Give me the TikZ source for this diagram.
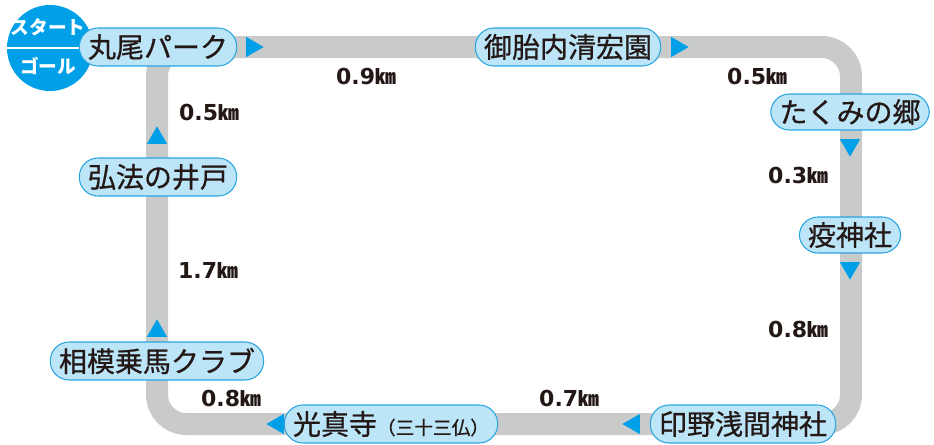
\documentclass[tikz,border=0pt]{standalone}
\usepackage{fontspec}
\setmainfont{Noto Sans CJK JP}
\newfontfamily\jpfont{Noto Sans CJK JP}
\newfontfamily\spotfont{Noto Sans CJK JP}[FakeBold=0.7]
\newfontfamily\numfont{DejaVu Sans}
\usepackage{xcolor}
\usetikzlibrary{shapes.geometric}

\definecolor{routegray}{HTML}{C9CACA}
\definecolor{spotfill}{HTML}{BDE5F8}
\definecolor{spotline}{HTML}{2AA5DF}
\definecolor{mark}{HTML}{00A0E9}
\definecolor{ink}{HTML}{231815}

\newcommand{\kmlabel}[1]{{\numfont\bfseries #1}{\jpfont\bfseries\fontsize{15.5pt}{15.5pt}\selectfont ㎞}}

\begin{document}
\begin{tikzpicture}[
  x=0.75pt, y=-0.75pt,
  route/.style={draw=routegray, line width=16.5pt, rounded corners=22pt},
  spot/.style={rectangle, draw=spotline, line width=0.8pt, fill=spotfill, rounded corners=14pt, minimum height=28.5pt, inner xsep=6.5pt, inner ysep=0pt, text=ink, font=\spotfont\fontsize{21pt}{21pt}\selectfont},
  smallspot/.style={spot, minimum height=27pt},
  dist/.style={text=ink, inner sep=0pt, font=\fontsize{16.5pt}{16.5pt}\selectfont},
  tri/.style={regular polygon, regular polygon sides=3, fill=mark, inner sep=0pt, minimum size=17.5pt},
  startgoal/.style={circle, fill=mark, minimum size=64.5pt, inner sep=0pt},
  sgtext/.style={text=white, inner sep=0pt, font=\bfseries\fontsize{14pt}{14pt}\selectfont}
]
\useasboundingbox (0,0) rectangle (934,444);

% Route corners
\coordinate (top) at (500,47);
\coordinate (tr) at (851,47);
\coordinate (br) at (851,424);
\coordinate (bl) at (157,424);
\coordinate (tl) at (157,47);

% Route
\draw[route] (top) -- (tr) -- (br) -- (bl) -- (tl) -- (top);

% Direction marks
\node[tri, shape border rotate=-90] (m1) at (252,47) {};
\node[tri, shape border rotate=-90] (m2) at (677,47) {};
\node[tri, shape border rotate=180] (m3) at (850,145) {};
\node[tri, shape border rotate=180] (m4) at (850,268) {};
\node[tri, shape border rotate=90] (m5) at (634,424) {};
\node[tri, shape border rotate=90] (m6) at (278,424) {};
\node[tri] (m7) at (157,331) {};
\node[tri] (m8) at (157,138) {};

% Distances
\node[dist] (d1) at (366,76) {\kmlabel{0.9}};
\node[dist] (d2) at (757,76) {\kmlabel{0.5}};
\node[dist] (d3) at (798,175) {\kmlabel{0.3}};
\node[dist] (d4) at (798,329) {\kmlabel{0.8}};
\node[dist] (d5) at (569,398) {\kmlabel{0.7}};
\node[dist] (d6) at (231,398) {\kmlabel{0.8}};
\node[dist] (d7) at (208,270) {\kmlabel{1.7}};
\node[dist] (d8) at (209,112) {\kmlabel{0.5}};

% Start / goal
\node[startgoal] (sg) at (50,48) {};
\draw[white, line width=1.5pt] (sg.west) -- (sg.east);
\node[sgtext] (st) at (48,27) {スタート};
\node[sgtext] (gl) at (48,66) {ゴール};

% Spots
\node[spot] (maruo) at (158,47) {丸尾パーク};
\node[spot] (gotainai) at (568,47) {御胎内清宏園};
\node[smallspot] (takumi) at (850,112) {たくみの郷};
\node[smallspot] (ekijin) at (850,235) {疫神社};
\node[spot] (sengen) at (743,424) {印野浅間神社};
\node[spot] (koshin) at (391,424) {光真寺{\fontsize{14pt}{14pt}\selectfont （三十三仏）}};
\node[spot] (jouba) at (157,361) {相模乗馬クラブ};
\node[spot] (kobo) at (158,177) {弘法の井戸};

\end{tikzpicture}
\end{document}
